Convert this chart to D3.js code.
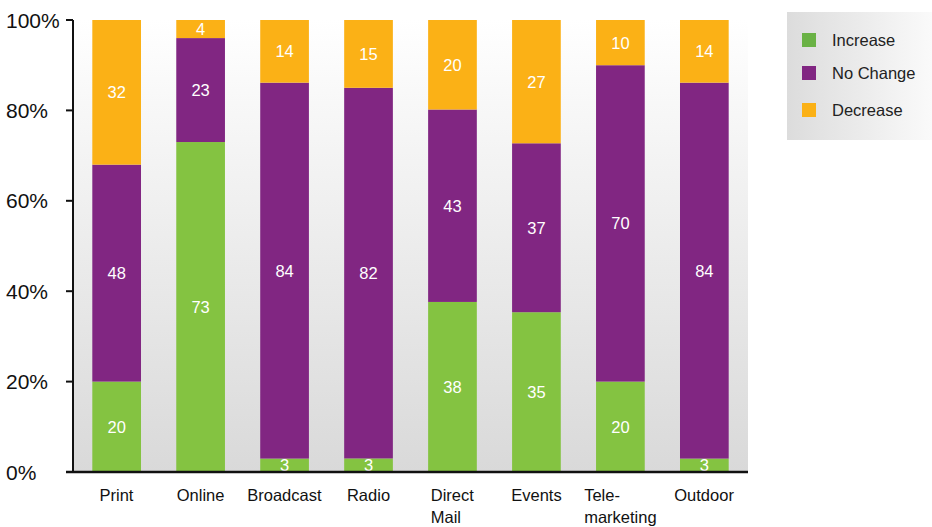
<!DOCTYPE html>
<html lang="en">
<head>
<meta charset="UTF-8">
<title>Stacked</title>
<style>
    body { margin: 0; background: #fff; }
    svg { display: block; font-family: "Liberation Sans", Arial, Helvetica, sans-serif; }
    .val { fill: #fff; font-size: 16.5px; text-anchor: middle; }
    .ytick { font-size: 21px; fill: #111; }
    .xlab { font-size: 16.5px; fill: #111; }
    .leg { font-size: 16.5px; fill: #222; }
</style>
</head>
<body>
<svg id="chart" width="932" height="527"></svg>
<script src="https://d3js.org/d3.v7.min.js"></script>
<script>
// dados
const categories = [["Print"], ["Online"], ["Broadcast"], ["Radio"], ["Direct", "Mail"], ["Events"], ["Tele-", "marketing"], ["Outdoor"]];
const increase = [20, 73, 3, 3, 38, 35, 20, 3];
const noChange = [48, 23, 84, 82, 43, 37, 70, 84];
const decrease = [32, 4, 14, 15, 20, 27, 10, 14];
const seriesNames = ["Increase", "No Change", "Decrease"];
const yTicks = [0, 20, 40, 60, 80, 100];

const colors = ["#84c341", "#812682", "#fbb116"];
const legendColors = ["#6ab245", "#812682", "#fbb116"];

const margin = { top: 20, left: 73, right: 184, bottom: 55 };
const width = 932, height = 527;
const x0 = margin.left, x1 = width - margin.right;
const y0 = height - margin.bottom;

const svg = d3.select("#chart");

const rows = categories.map((c, i) => ({
    key: c.join(" "), lines: c,
    Increase: increase[i], "No Change": noChange[i], Decrease: decrease[i]
}));

const stack = d3.stack().keys(seriesNames).offset(d3.stackOffsetExpand);
const layers = stack(rows);

const x = d3.scaleBand().domain(rows.map(d => d.key)).range([x0, x1]).paddingInner(0.42).paddingOuter(0.23);
const y = d3.scaleLinear().domain([0, 1]).range([y0, margin.top]);

// fundo com degradê
const defs = svg.append("defs");
const g1 = defs.append("linearGradient").attr("id", "bg").attr("x1", 0).attr("y1", 0).attr("x2", 0).attr("y2", 1);
g1.append("stop").attr("offset", "0%").attr("stop-color", "#ffffff");
g1.append("stop").attr("offset", "100%").attr("stop-color", "#d9d9d9");
const g2 = defs.append("linearGradient").attr("id", "legbg").attr("x1", 0).attr("y1", 0).attr("x2", 1).attr("y2", 0);
g2.append("stop").attr("offset", "0%").attr("stop-color", "#dcdcdc");
g2.append("stop").attr("offset", "100%").attr("stop-color", "#fafafa");

svg.append("rect").attr("x", x0).attr("y", margin.top)
    .attr("width", x1 - x0).attr("height", y0 - margin.top).attr("fill", "url(#bg)");

// barras
layers.forEach((layer, li) => {
    svg.append("g").selectAll("rect")
        .data(layer)
        .enter()
        .append("rect")
        .attr("x", d => x(d.data.key))
        .attr("width", x.bandwidth())
        .attr("y", d => y(d[1]))
        .attr("height", d => y(d[0]) - y(d[1]))
        .attr("fill", colors[li]);

    svg.append("g").selectAll("text")
        .data(layer)
        .enter()
        .append("text")
        .attr("class", "val")
        .attr("x", d => x(d.data.key) + x.bandwidth() / 2)
        .attr("y", d => (y(d[0]) + y(d[1])) / 2)
        .attr("dy", "0.36em")
        .text(d => d.data[layer.key]);
});

// eixo y
svg.append("line").attr("x1", x0).attr("x2", x0).attr("y1", margin.top).attr("y2", y0)
    .attr("stroke", "#111").attr("stroke-width", 2);
yTicks.forEach(t => {
    svg.append("line").attr("x1", x0 - 7).attr("x2", x0).attr("y1", y(t / 100)).attr("y2", y(t / 100))
        .attr("stroke", "#111").attr("stroke-width", 2);
    svg.append("text").attr("class", "ytick").attr("x", 6).attr("y", y(t / 100))
        .attr("dy", "0.36em").text(t + "%");
});

// eixo x
svg.append("line").attr("x1", x0 - 7).attr("x2", x1).attr("y1", y0).attr("y2", y0)
    .attr("stroke", "#111").attr("stroke-width", 2.5);

rows.forEach(r => {
    const cx = x(r.key) + x.bandwidth() / 2;
    const t = svg.append("text").attr("class", "xlab").attr("y", y0 + 29);
    r.lines.forEach((ln, i) => {
        t.append("tspan").attr("x", 0).attr("dy", i === 0 ? 0 : 22).text(ln);
    });
    const w = t.node().getBBox().width;
    t.selectAll("tspan").attr("x", cx - w / 2);
});

// legenda
const lx = 787, ly = 12;
svg.append("rect").attr("x", lx).attr("y", ly).attr("width", width - lx).attr("height", 128)
    .attr("fill", "url(#legbg)");
const legY = [40, 73, 110];
seriesNames.forEach((s, i) => {
    svg.append("rect").attr("x", lx + 15).attr("y", legY[i] - 7).attr("width", 14).attr("height", 14)
        .attr("fill", legendColors[i]);
    svg.append("text").attr("class", "leg").attr("x", lx + 45).attr("y", legY[i])
        .attr("dy", "0.36em").text(s);
});
</script>
</body>
</html>
